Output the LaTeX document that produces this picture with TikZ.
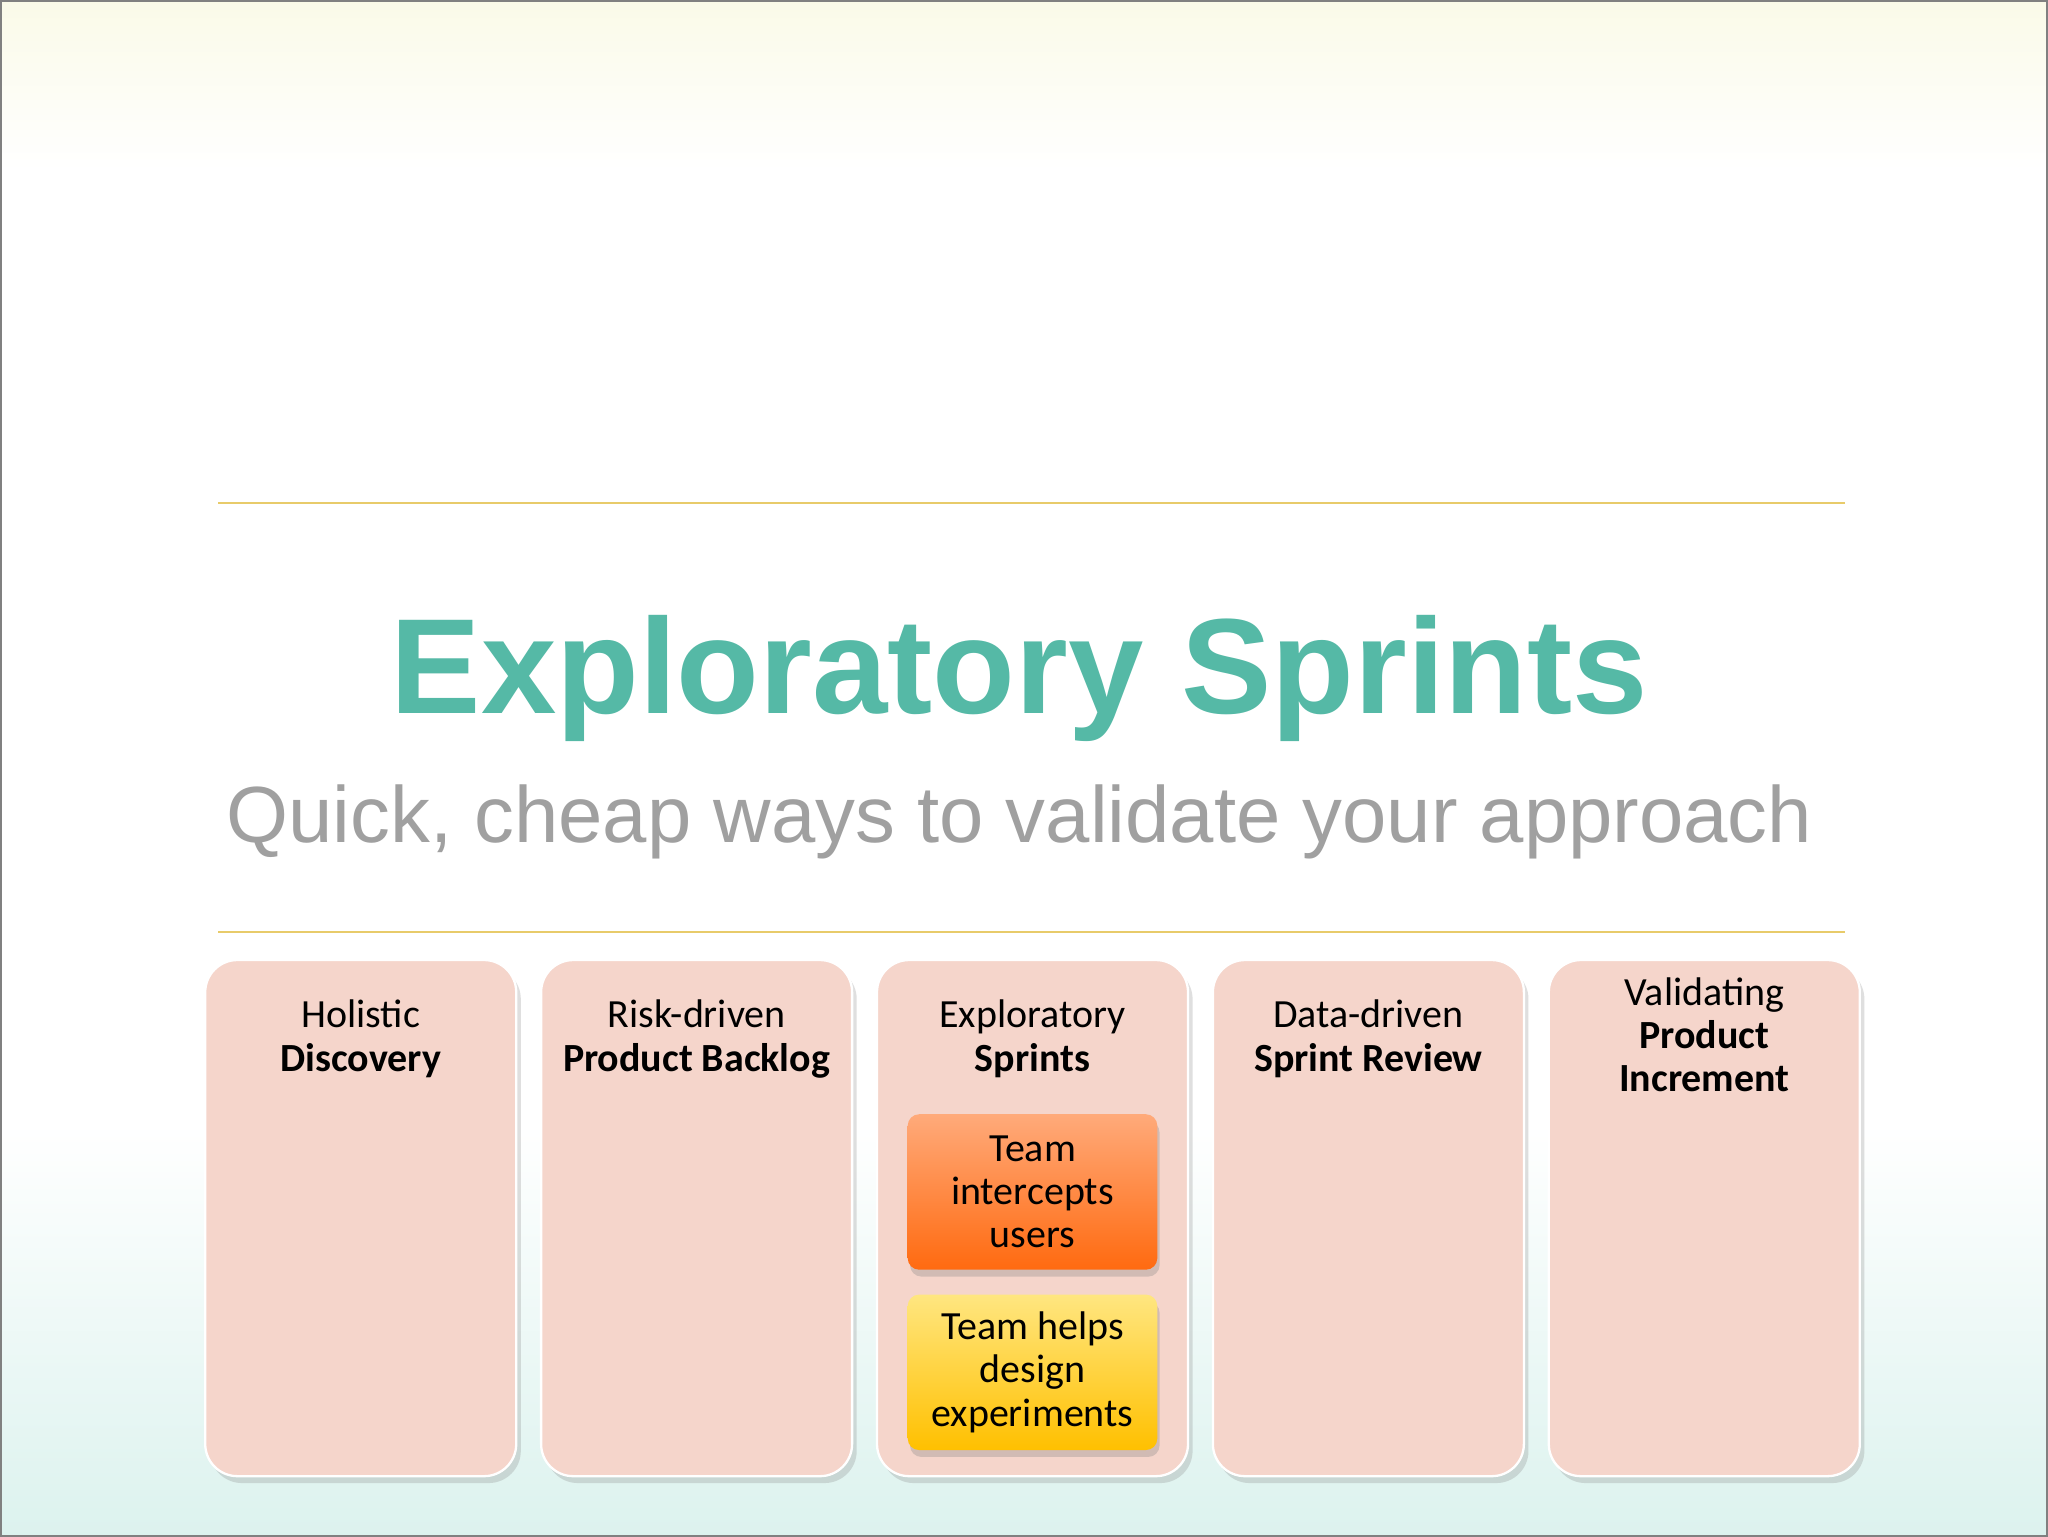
\documentclass[tikz,border=0pt]{standalone}
\usepackage{fontspec}
\setmainfont{Carlito}
\newfontfamily\arialfont{Liberation Sans}
\usetikzlibrary{shadows}
\definecolor{teal}{HTML}{55B9A6}
\definecolor{boxfill}{HTML}{F5D5CB}
\definecolor{gold}{HTML}{E8CB6A}
\tikzset{
 col/.style={draw=white,line width=1pt,fill=boxfill,rounded corners=14pt,minimum width=4.76cm,minimum height=7.9cm,drop shadow={opacity=0.25,shadow xshift=2pt,shadow yshift=-3pt}},
 inner/.style={rounded corners=5pt,minimum width=3.82cm,minimum height=2.38cm,align=center,font=\fontsize{17.4}{18.8}\selectfont,drop shadow={opacity=0.3,shadow xshift=1pt,shadow yshift=-3pt}},
 lbl/.style={align=center,font=\fontsize{17.4}{18.8}\selectfont,anchor=north},
 rule/.style={draw=gold,line width=1pt}
}
\begin{document}
\begin{tikzpicture}[x=0.02cm,y=-0.02cm]
\useasboundingbox (0,0) rectangle (1567,1176);
\shade[top color=white,bottom color=white] (0,0) rectangle (1567,1176);
\shade[top color={rgb,255:red,250;green,250;blue,232},bottom color=white] (0,0) rectangle (1567,130);
\shade[top color=white,bottom color={rgb,255:red,220;green,242;blue,238}] (0,860) rectangle (1567,1176);
\draw[gray,line width=1.5pt] (0,0) rectangle (1567,1176);
\coordinate (l1a) at (167,385); \coordinate (l1b) at (1412,385);
\coordinate (l2a) at (167,713); \coordinate (l2b) at (1412,713);
\draw[rule] (l1a) -- (l1b);
\draw[rule] (l2a) -- (l2b);
\node[text=teal,font=\arialfont\bfseries\fontsize{59}{59}\selectfont] (title) at (780,519) {Exploratory Sprints};
\node[text={rgb,255:red,160;green,160;blue,160},font=\arialfont\fontsize{34.7}{34.7}\selectfont] (sub) at (780,629) {Quick, cheap ways to validate your approach};
\node[col] (b1) at (276,932) {};
\node[col] (b2) at (533,932) {};
\node[col] (b3) at (790,932) {};
\node[col] (b4) at (1047,932) {};
\node[col] (b5) at (1304,932) {};
\node[lbl] (t1) at (276,759) {Holistic\\\textbf{Discovery}};
\node[lbl] (t2) at (533,759) {Risk-driven\\\textbf{Product Backlog}};
\node[lbl] (t3) at (790,759) {Exploratory\\\textbf{Sprints}};
\node[lbl] (t4) at (1047,759) {Data-driven\\\textbf{Sprint Review}};
\node[lbl] (t5) at (1304,742) {Validating\\\textbf{Product}\\\textbf{Increment}};
\node[inner,top color={rgb,255:red,255;green,170;blue,122},bottom color={rgb,255:red,255;green,106;blue,16}] (i1) at (790,912) {Team\\intercepts\\users};
\node[inner,top color={rgb,255:red,255;green,230;blue,128},bottom color={rgb,255:red,255;green,192;blue,0}] (i2) at (790,1050) {Team helps\\design\\experiments};
\end{tikzpicture}
\end{document}
